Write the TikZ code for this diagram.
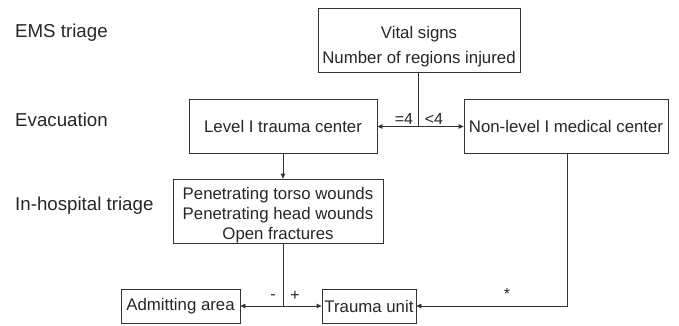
\documentclass[tikz,border=0pt]{standalone}
\usepackage{fontspec}
\setmainfont{Liberation Sans}
\usetikzlibrary{arrows.meta}
\begin{document}
\begin{tikzpicture}[x=1pt,y=-1pt,
  every node/.style={font=\fontsize{16.8}{19}\selectfont, text=black!85, inner sep=0pt},
  side/.style={anchor=west, font=\fontsize{18.7}{22}\selectfont},
  box/.style={draw=black!80, line width=0.8pt, align=center},
  conn/.style={draw=black!80, line width=0.8pt},
  arr/.style={conn, -{Triangle[length=5pt,width=4.5pt]}},
  lbl/.style={font=\fontsize{16}{18}\selectfont}]
\useasboundingbox (0,0) rectangle (679,325);
% left labels
\node[side] (l1) at (15,33) {EMS triage};
\node[side] (l2) at (15,120) {Evacuation};
\node[side] (l3) at (15,206) {In-hospital triage};
% boxes
\node[box, minimum width=202pt, minimum height=64pt, font=\fontsize{16.8}{25}\selectfont] (vital) at (419,40) {\raisebox{0pt}[25pt][4pt]{Vital signs}\\Number of regions injured};
\node[box, minimum width=188pt, minimum height=54pt] (level) at (283,126.5) {Level I trauma center};
\node[box, minimum width=204pt, minimum height=54pt] (nonlevel) at (566,126.5) {Non-level I medical center};
\node[box, minimum width=210pt, minimum height=64pt, font=\fontsize{16.8}{20}\selectfont] (hosp) at (278,211) {\raisebox{0pt}[20pt][4pt]{Penetrating torso wounds}\\Penetrating head wounds\\Open fractures};
\node[box, minimum width=119pt, minimum height=34pt] (admit) at (180.5,306) {Admitting area};
\node[box, minimum width=94pt, minimum height=34pt] (trauma) at (369,306) {Trauma unit};
% junctions
\coordinate (j1) at (418,126.5);
\coordinate (j2) at (283,306);
\coordinate (nl) at (567,153.5);
% connectors
\draw[conn] (vital.south -| j1) -- (j1);
\draw[arr] (j1) -- (level.east);
\draw[arr] (j1) -- (nonlevel.west);
\draw[arr] (level.south) -- (level.south |- hosp.north);
\draw[conn] (hosp.south -| j2) -- (j2);
\draw[arr] (j2) -- (admit.east);
\draw[arr] (j2) -- (trauma.west);
\draw[arr] (nl) |- (trauma.east);
% edge labels
\node[lbl] (eq) at (404,119) {=4};
\node[lbl] (lt) at (434,119) {<4};
\node[lbl] (mi) at (273,297) {-};
\node[lbl] (pl) at (295,296) {+};
\node[lbl] (st) at (507,294) {*};
\end{tikzpicture}
\end{document}
